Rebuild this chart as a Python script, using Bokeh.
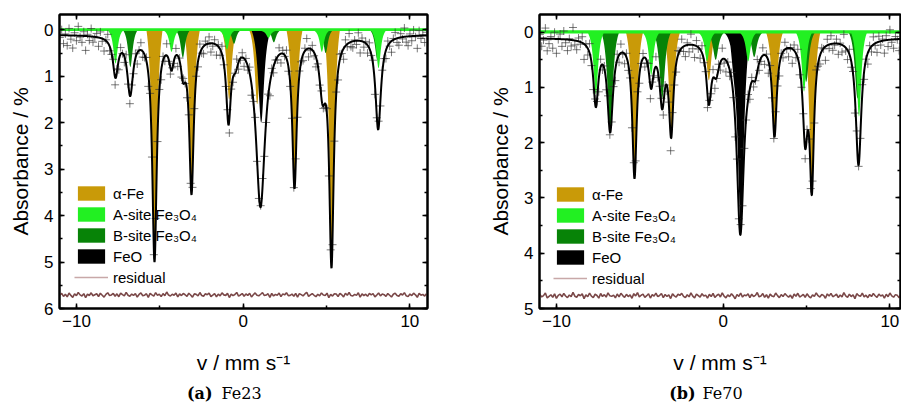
import numpy as np
from bokeh.plotting import figure
from bokeh.layouts import row, column
from bokeh.models import (Range1d, LinearAxis, Legend, LegendItem,
                          FixedTicker, CustomJSTickFormatter)
from bokeh.core.properties import value
from bokeh.embed import file_html
from bokeh.resources import INLINE

# ---------------- data ----------------
velocity_channels = np.linspace(-11.0, 11.0, 200)

# panel (a) Fe23: line positions (mm/s), depths (%) and half widths of each component
a_alpha_pos = [-5.32, -3.08, -0.84, 0.84, 3.08, 5.32]
a_alpha_depth = [4.85, 3.45, 1.5, 1.6, 3.3, 4.95]
a_alpha_hwhm = 0.18
a_asite_pos = [-7.66, -4.30, -0.97, 1.52, 4.72, 8.12]
a_asite_depth = [0.7, 0.45, 0.4, 0.15, 0.45, 0.8]
a_asite_hwhm = 0.16
a_bsite_pos = [-6.77, -3.62, -0.55, 1.84, 4.95, 8.05]
a_bsite_depth = [0.8, 0.6, 0.3, 0.27, 0.5, 0.65]
a_bsite_hwhm = 0.17
a_feo_pos = [1.08]
a_feo_depth = [2.0]
a_feo_hwhm = 0.22
# total fit: dip positions, absorbance at the dip, half widths
a_fit_pos = [-7.66, -6.78, -5.32, -4.30, -3.60, -3.10, -0.88, -0.46, 1.04, 1.74, 3.08, 4.76, 5.30, 8.10]
a_fit_abs = [1.04, 1.43, 5.00, 0.88, 1.15, 3.55, 2.05, 0.92, 3.82, 0.90, 3.42, 1.62, 5.13, 2.15]
a_fit_hwhm = [0.19, 0.21, 0.16, 0.17, 0.18, 0.16, 0.17, 0.22, 0.33, 0.25, 0.16, 0.22, 0.16, 0.2]
a_fit_base = 0.10
a_residual_level = 5.70

# panel (b) Fe70
b_alpha_pos = [-5.32, -3.10, -0.86, 0.84, 3.08, 5.32]
b_alpha_depth = [2.55, 1.85, 0.87, 0.85, 1.7, 2.75]
b_alpha_hwhm = 0.19
b_asite_pos = [-7.64, -4.32, -0.97, 1.50, 4.85, 8.15]
b_asite_depth = [1.1, 0.75, 0.5, 0.5, 1.05, 1.5]
b_asite_hwhm = 0.17
b_bsite_pos = [-6.78, -3.66, -0.45, 1.86, 4.98, 8.06]
b_bsite_depth = [1.75, 1.2, 0.5, 0.45, 0.9, 1.2]
b_bsite_hwhm = 0.2
b_feo_pos = [0.62, 1.06]
b_feo_depth = [0.45, 3.5]
b_feo_hwhm = 0.23
b_fit_pos = [-7.64, -6.78, -5.32, -4.32, -3.66, -3.12, -0.86, -0.42, 1.03, 1.52, 1.92, 3.08, 4.92, 5.32, 8.12]
b_fit_abs = [1.36, 1.82, 2.65, 1.03, 1.40, 1.92, 1.32, 0.84, 3.67, 1.18, 0.88, 1.90, 2.11, 2.95, 2.41]
b_fit_hwhm = [0.18, 0.2, 0.16, 0.17, 0.19, 0.16, 0.18, 0.22, 0.26, 0.2, 0.22, 0.16, 0.18, 0.15, 0.2]
b_fit_base = 0.10
b_residual_level = 4.76

# scatter of the measured points around the fit (hundredths of a percent)
a_scatter = [5, -12, 18, -3, 22, -15, 8, 27, -6, 11, -20, 3, 14, -9, 31, -4, 9, -17, 12, 2,
             -8, 19, -13, 6, 25, -2, -18, 10, 4, -11, 16, -7, 21, -14, 1, 13, -22, 7, 17, -5,
             9, -10, 24, -1, -16, 12, 6, -8, 28, -12, 3, 15, -19, 8, -4, 20, -9, 11, -25, 5,
             14, -3, 7, -15, 23, -6, 10, -11, 2, 18, -13, 4, 26, -7, -2, 12, -20, 9, 16, -8,
             1, -14, 19, 6, -9, 22, -4, 13, -17, 3, 8, -12, 29, -5, 11, -1, -21, 15, 4, -10,
             17, -6, 9, -13, 24, 2, -16, 7, 12, -3, -19, 10, 5, -8, 27, -11, 14, -2, 6, -15,
             20, -7, 3, -18, 11, 8, -4, 16, -12, 25, -9, 1, 13, -6, -23, 18, 4, -10, 7, 21,
             -3, 12, -16, 5, 9, -14, 30, -1, 15, -8, -5, 19, -11, 2, 23, -13, 6, -20, 10, 14,
             -2, 8, -17, 26, -7, 11, -4, 17, -12, 3, -9, 22, 5, -15, 13, -6, 1, 18, -10, 7,
             24, -3, -14, 9, 16, -8, 4, -19, 12, 20, -5, 10, -13, 2, 27, -11, 6, -2, 15, -7]
b_scatter = [-7, 14, 3, -19, 22, 9, -4, 17, -12, 26, 1, -9, 13, -15, 6, 20, -2, 11, -23, 8,
             16, -6, 4, -11, 28, -3, 12, -17, 7, 19, -8, 2, 24, -14, 10, -5, 15, -20, 5, 9,
             -1, 21, -10, 13, -16, 3, 18, -7, 11, -3, 25, -13, 6, -21, 14, 0, -9, 17, 4, -12,
             23, -5, 8, -18, 12, 2, -14, 19, -6, 10, -2, 27, -11, 5, 15, -8, 1, -16, 9, 20,
             -4, 13, -19, 7, 22, -10, 3, 16, -13, 6, -1, 24, -7, 11, -15, 18, 2, -9, 14, -20,
             8, 21, -3, 12, -12, 5, 29, -6, 9, -17, 15, -2, 4, -11, 19, -8, 10, 1, -22, 13,
             6, -14, 17, -4, 23, -9, 7, 12, -18, 3, 20, -5, 11, -13, 2, 16, -1, 26, -10, 8,
             -16, 14, 5, -7, 18, -12, 9, 22, -3, 10, -19, 4, 15, -6, 1, 25, -11, 7, -15, 12,
             3, -8, 19, -2, 13, -21, 6, 17, -9, 11, -4, 28, -13, 2, 9, -17, 14, -1, 20, -6,
             10, -14, 4, 18, -10, 7, -3, 23, -8, 12, -18, 5, 16, -5, 1, 21, -12, 8, -2, 15]

x_ticks = [-10, 0, 10]
x_minor = [-10, -5, 0, 5, 10]
a_y_ticks = [0, 1, 2, 3, 4, 5, 6]
b_y_ticks = [0, 1, 2, 3, 4, 5]
legend_labels = ["\u03b1-Fe", "A-site Fe\u2083O\u2084", "B-site Fe\u2083O\u2084", "FeO", "residual"]
captions_a = ["(a)", "Fe23"]
captions_b = ["(b)", "Fe70"]

# ---------------- styling ----------------
FONT = "Liberation Sans"
C_ALPHA = "#C99A08"
C_ASITE = "#22F022"
C_BSITE = "#078307"
C_FEO = "#000000"
C_RES = "#7A4848"
C_RES_LEG = "#C8A8A8"
MAIN_H = 376
CAP_H = 30
CUT = 0.12   # component fills are drawn from the plot baseline only

v_fine = np.linspace(-11.1, 11.1, 2401)


def lorentz_sum(v, pos, depth, hwhm):
    v = np.asarray(v, float)[:, None]
    pos = np.asarray(pos, float)[None, :]
    dep = np.asarray(depth, float)[None, :]
    w = np.broadcast_to(np.asarray(hwhm, float), pos.shape)
    return (dep * w ** 2 / (w ** 2 + (v - pos) ** 2)).sum(axis=1)


def component(v, pos, depth, hwhm):
    v = np.asarray(v, float)[:, None]
    pos = np.asarray(pos, float)[None, :]
    dep = np.asarray(depth, float)[None, :]
    shape = hwhm ** 2 / (hwhm ** 2 + (v - pos) ** 2)
    return (dep * np.clip(shape - CUT, 0, None) / (1 - CUT)).sum(axis=1)


def fit_curve(v, pos, absorb, hwhm, base):
    pos = np.asarray(pos, float)
    w = np.asarray(hwhm, float)
    m = w[None, :] ** 2 / (w[None, :] ** 2 + (pos[:, None] - pos[None, :]) ** 2)
    amp = np.linalg.solve(m, np.asarray(absorb, float) - base)
    return base + lorentz_sum(v, pos, amp, w)


minus_fmt = "return tick < 0 ? '\u2212' + Math.abs(tick) : String(tick);"


def style_axis(ax, ticks, minor, show_labels):
    ax.ticker = FixedTicker(ticks=ticks, minor_ticks=minor)
    ax.major_tick_in = 5
    ax.major_tick_out = 0
    ax.minor_tick_in = 3
    ax.minor_tick_out = 0
    ax.axis_line_width = 2
    ax.major_tick_line_width = 1.5
    ax.minor_tick_line_width = 1.5
    if show_labels:
        ax.formatter = CustomJSTickFormatter(code=minus_fmt)
        ax.major_label_text_font = FONT
        ax.major_label_text_font_size = "17px"
        ax.major_label_text_color = "black"
        ax.major_label_standoff = 6
        ax.axis_label_text_font = FONT
        ax.axis_label_text_font_size = "21px"
        ax.axis_label_text_font_style = "normal"
        ax.axis_label_text_color = "black"
    else:
        ax.formatter = CustomJSTickFormatter(code="return '';")
        ax.major_label_text_font_size = "1px"
        ax.major_label_standoff = 0


def make_panel(width, border_left, border_right, x_end, y_top, y_bottom, y_ticks,
               alpha, asite, bsite, feo, fit, base, scatter, res_level, legend_loc):
    p = figure(width=width, height=MAIN_H, output_backend="svg", toolbar_location=None,
               x_range=Range1d(-11.02, x_end), y_range=Range1d(y_bottom, y_top),
               min_border_left=border_left, min_border_right=border_right,
               min_border_top=14, min_border_bottom=MAIN_H - 309,
               background_fill_color="white", border_fill_color="white")
    p.xgrid.visible = False
    p.ygrid.visible = False
    p.outline_line_color = "black"
    p.outline_line_width = 2

    y_minor = list(np.arange(0, y_bottom + 0.01, 0.5))
    style_axis(p.xaxis[0], x_ticks, x_minor, True)
    style_axis(p.yaxis[0], y_ticks, y_minor, True)
    p.xaxis[0].axis_label = "v / mm s\u207b\u00b9"
    p.xaxis[0].axis_label_standoff = 21
    p.yaxis[0].axis_label = "Absorbance / %"
    p.yaxis[0].axis_label_standoff = 9
    top = LinearAxis()
    style_axis(top, x_ticks, x_minor, False)
    p.add_layout(top, "above")
    right = LinearAxis()
    style_axis(right, y_ticks, y_minor, False)
    p.add_layout(right, "right")

    r_alpha = p.varea(x=v_fine, y1=0.0, y2=component(v_fine, *alpha), fill_color=C_ALPHA)
    r_feo = p.varea(x=v_fine, y1=0.0, y2=component(v_fine, *feo), fill_color=C_FEO)
    r_b = p.varea(x=v_fine, y1=0.0, y2=component(v_fine, *bsite), fill_color=C_BSITE)
    r_a = p.varea(x=v_fine, y1=-0.035, y2=0.025 + component(v_fine, *asite),
                  fill_color=C_ASITE)

    fit_ch = fit_curve(velocity_channels, fit[0], fit[1], fit[2], base)
    noise = np.asarray(scatter, float) * 0.01
    p.scatter(velocity_channels, fit_ch + noise, marker="cross", size=8,
              line_color="#333333", line_alpha=0.65, line_width=1)
    p.line(velocity_channels, res_level + 0.22 * noise, line_color=C_RES, line_width=1.6)
    r_res_leg = p.line([-30, -29], [0, 0], line_color=C_RES_LEG, line_width=1.5)
    p.line(v_fine, fit_curve(v_fine, fit[0], fit[1], fit[2], base),
           line_color="black", line_width=2)

    legend = Legend(items=[LegendItem(label=legend_labels[0], renderers=[r_alpha]),
                           LegendItem(label=legend_labels[1], renderers=[r_a]),
                           LegendItem(label=legend_labels[2], renderers=[r_b]),
                           LegendItem(label=legend_labels[3], renderers=[r_feo]),
                           LegendItem(label=legend_labels[4], renderers=[r_res_leg])],
                    location=legend_loc, glyph_width=34, glyph_height=18, spacing=3,
                    padding=0, margin=0, label_height=18, label_standoff=5,
                    label_text_font=FONT, label_text_font_size="15px",
                    label_text_color="black",
                    border_line_color=None, background_fill_alpha=0)
    p.add_layout(legend)
    return p


def make_caption(width, right_px, left_px, texts):
    c = figure(width=width, height=CAP_H, output_backend="svg", toolbar_location=None,
               x_range=Range1d(0, width), y_range=Range1d(0, CAP_H),
               x_axis_type=None, y_axis_type=None, min_border=0,
               background_fill_color="white", border_fill_color="white")
    c.outline_line_color = None
    c.grid.visible = False
    c.text(x=[right_px], y=[CAP_H - 17], text=[texts[0]], text_align="right",
           text_baseline="middle", text_font=value("DejaVu Serif"),
           text_font_style="bold", text_font_size="16px", text_color="black")
    c.text(x=[left_px], y=[CAP_H - 17], text=[texts[1]], text_align="left",
           text_baseline="middle", text_font=value("DejaVu Serif"),
           text_font_size="16px", text_color="black")
    return c


pa = make_panel(450, 59, 23, 11.06, -0.33, 6.0, a_y_ticks,
                (a_alpha_pos, a_alpha_depth, a_alpha_hwhm),
                (a_asite_pos, a_asite_depth, a_asite_hwhm),
                (a_bsite_pos, a_bsite_depth, a_bsite_hwhm),
                (a_feo_pos, a_feo_depth, a_feo_hwhm),
                (a_fit_pos, a_fit_abs, a_fit_hwhm), a_fit_base, a_scatter, a_residual_level,
                (15, 22))
pb = make_panel(451, 89, 1, 10.64, -0.32, 5.0, b_y_ticks,
                (b_alpha_pos, b_alpha_depth, b_alpha_hwhm),
                (b_asite_pos, b_asite_depth, b_asite_hwhm),
                (b_bsite_pos, b_bsite_depth, b_bsite_hwhm),
                (b_feo_pos, b_feo_depth, b_feo_hwhm),
                (b_fit_pos, b_fit_abs, b_fit_hwhm), b_fit_base, b_scatter, b_residual_level,
                (14, 21))
ca = make_caption(450, 212, 221, captions_a)
cb = make_caption(451, 245, 252, captions_b)

layout = column(row(pa, pb), row(ca, cb))
open("out.html", "w").write(file_html(layout, INLINE))
